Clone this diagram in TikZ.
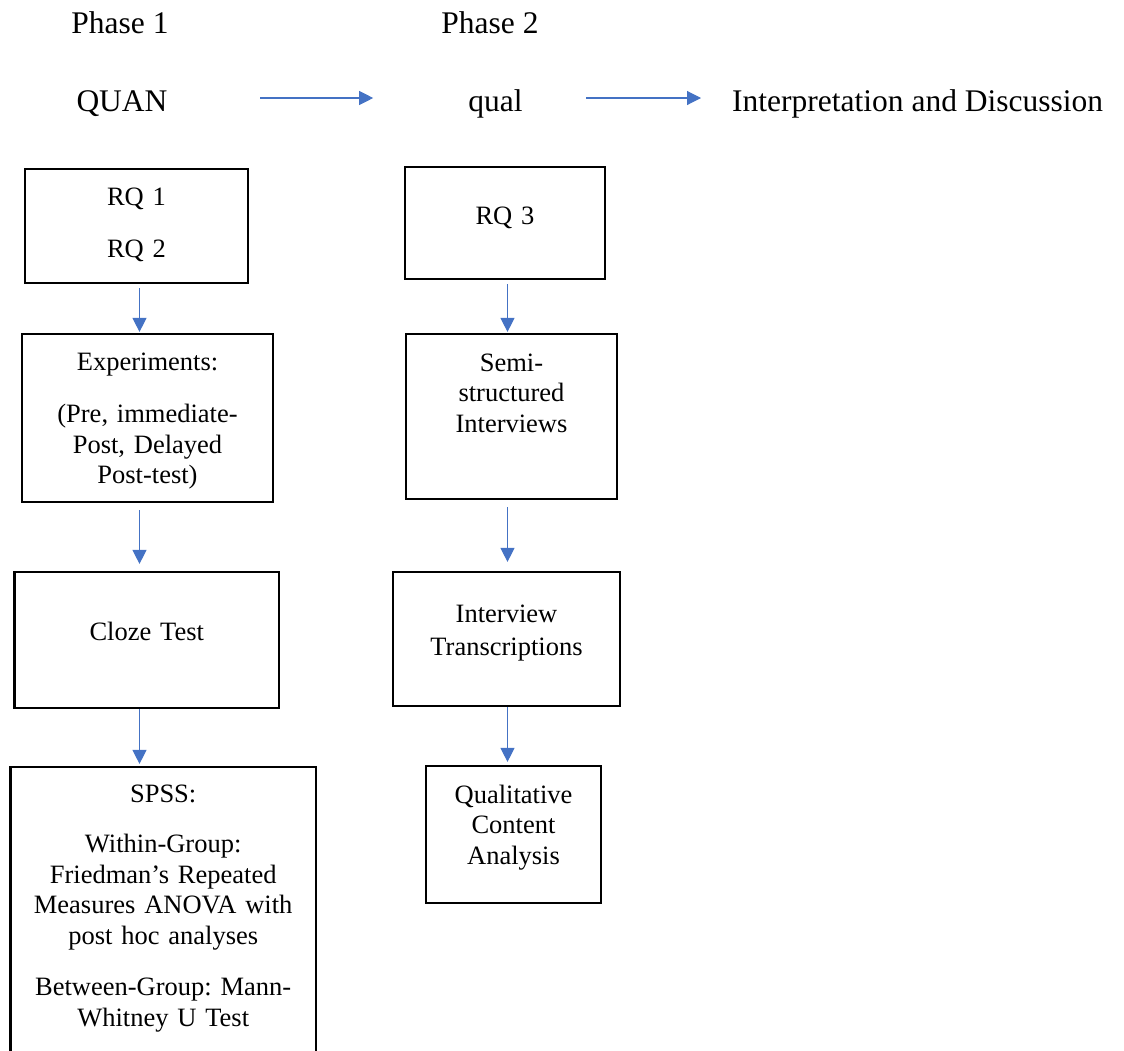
\documentclass[tikz,border=0pt]{standalone}
\usepackage{fontspec}
\setmainfont{Liberation Serif}
\usetikzlibrary{arrows.meta}
\definecolor{flowblue}{HTML}{4472C4}
\frenchspacing
\begin{document}
\begin{tikzpicture}[x=1pt, y=-1pt,
  head/.style={font=\fontsize{31.5}{36}\selectfont, inner sep=0pt, anchor=base},
  box/.style={draw, line width=2.2pt, inner xsep=4pt, inner ysep=0pt, anchor=base,
    align=center, font=\fontsize{26.5}{30.5}\selectfont},
  flow/.style={flowblue, line width=1.1pt, -{Triangle[length=14pt, width=14pt]}}]
  \useasboundingbox (0,0) rectangle (1124,1050);
  \clip (0,0) rectangle (1124,1050);

  \coordinate (c1) at (139.5,0);
  \coordinate (c2) at (507.5,0);

  \node[head] (ph1) at (120,33) {Phase 1};
  \node[head] (ph2) at (490,33) {Phase 2};
  \node[head] (quan) at (122,111) {QUAN};
  \node[head] (qual) at (495.5,111) {qual};
  \node[head, anchor=base west] (interp) at (732,111) {Interpretation and Discussion};

  % quantitative strand
  \node[box, text width=215pt, text height=36pt, text depth=78pt] (rq12) at (136.5,205) {RQ 1\\[22pt]RQ 2};
  \node[box, text width=243pt, text height=36pt, text depth=132pt] (exper) at (147.5,370)
    {Experiments:\\[22pt](Pre, immediate-\\Post, Delayed\\Post-test)};
  \node[box, text width=256.5pt, text height=68pt, text depth=68pt] (cloze) at (146.75,640) {Cloze Test};
  \node[box, text width=297.6pt, text height=35pt, text depth=258pt] (spss) at (163.2,802)
    {SPSS:\\[20pt]Within-Group:\\Friedman’s Repeated\\Measures ANOVA with\\post hoc analyses\\[21pt]Between-Group: Mann-\\Whitney U Test};

  % qualitative strand
  \node[box, text width=192pt, text height=57pt, text depth=55pt] (rq3) at (505,224) {RQ 3};
  \node[box, text width=203pt, text height=37pt, text depth=128pt] (semi) at (511.5,371) {Semi-\\structured\\Interviews};
  \node[box, text width=219pt, text height=50pt, text depth=84pt] (transc) at (506.5,622) {Interview\\[2.5pt]Transcriptions};
  \node[box, text width=167pt, text height=37pt, text depth=100pt] (qca) at (513.5,803) {Qualitative\\Content\\Analysis};

  \draw[flow] ([shift={(92.5,-13)}]quan.base east) -- ([shift={(-95,-13)}]qual.base west);
  \draw[flow] ([shift={(63.5,-13)}]qual.base east) -- ([shift={(-31,-13)}]interp.base west);

  \draw[flow, shorten <=4pt, shorten >=1pt] (rq12.south -| c1) -- (exper.north -| c1);
  \draw[flow, shorten <=7pt, shorten >=7pt] (exper.south -| c1) -- (cloze.north -| c1);
  \draw[flow, shorten >=2pt] (cloze.south -| c1) -- (spss.north -| c1);
  \draw[flow, shorten <=4pt, shorten >=1pt] (rq3.south -| c2) -- (semi.north -| c2);
  \draw[flow, shorten <=7pt, shorten >=9pt] (semi.south -| c2) -- (transc.north -| c2);
  \draw[flow, shorten >=3pt] (transc.south -| c2) -- (qca.north -| c2);
\end{tikzpicture}
\end{document}
